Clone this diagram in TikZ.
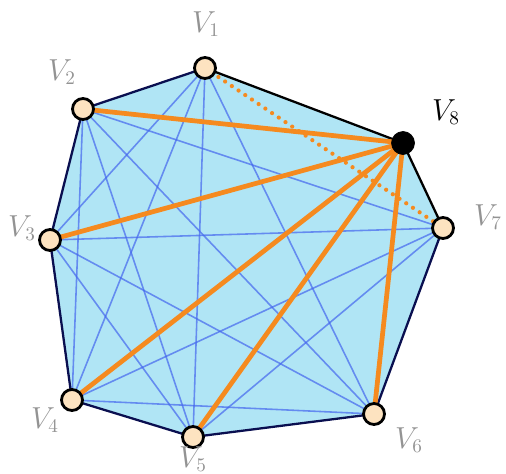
\documentclass[tikz,border=0pt]{standalone}
\begin{document}
\begin{tikzpicture}[x=0.02cm,y=-0.02cm,
  vtx/.style={circle,draw=black,line width=1.6pt,fill=vfill,minimum size=0.42cm,inner sep=0pt},
  vblack/.style={circle,fill=black,draw=black,minimum size=0.46cm,inner sep=0pt},
  lbl/.style={text=gray!85,font=\fontsize{16}{19}\selectfont},
  blue line/.style={draw=blueline,line width=0.9pt,opacity=0.7},
  orange line/.style={draw=orangeline,line width=2.7pt},
  dot line/.style={draw=orangeline,line width=2.4pt,dash pattern=on 0pt off 4.6pt,line cap=round},
  border/.style={draw=navy,line width=1.3pt,line join=round}]
\definecolor{vfill}{HTML}{FDE3C0}
\definecolor{polyfill}{HTML}{B0E5F5}
\definecolor{blueline}{HTML}{4466EE}
\definecolor{orangeline}{HTML}{F58A1F}
\definecolor{navy}{HTML}{0A0F50}
\useasboundingbox (0,0) rectangle (506,473);
\coordinate (p1) at (205,68);
\coordinate (p2) at (83,109);
\coordinate (p3) at (50,240);
\coordinate (p4) at (72,400);
\coordinate (p5) at (193,437);
\coordinate (p6) at (374,414);
\coordinate (p7) at (443,228);
\coordinate (p8) at (403,143);
\fill[polyfill] (p1)--(p8)--(p7)--(p6)--(p5)--(p4)--(p3)--(p2)--cycle;
\foreach \a/\b in {1/3,1/4,1/5,1/6,2/4,2/5,2/6,2/7,3/5,3/6,3/7,4/6,4/7,5/7}
  \draw[blue line] (p\a)--(p\b);
\draw[border] (p7)--(p6)--(p5)--(p4)--(p3)--(p2)--(p1);
\draw[line width=1.3pt,draw=black] (p1)--(p8)--(p7);
\draw[dot line] (p1)--(p7);
\foreach \b in {2,3,4,5,6}
  \draw[orange line] (p8)--(p\b);
\foreach \i in {1,...,7} \node[vtx] (v\i) at (p\i) {};
\node[vblack] (v8) at (p8) {};
\node[lbl] (l1) at (206,24) {$V_1$};
\node[lbl] (l2) at (62,72) {$V_2$};
\node[lbl] (l3) at (22,228) {$V_3$};
\node[lbl] (l4) at (45,420) {$V_4$};
\node[lbl] (l5) at (193,459) {$V_5$};
\node[lbl] (l6) at (409,440) {$V_6$};
\node[lbl] (l7) at (488,217) {$V_7$};
\node[lbl,text=black] (l8) at (446,112) {$V_8$};
\end{tikzpicture}
\end{document}
